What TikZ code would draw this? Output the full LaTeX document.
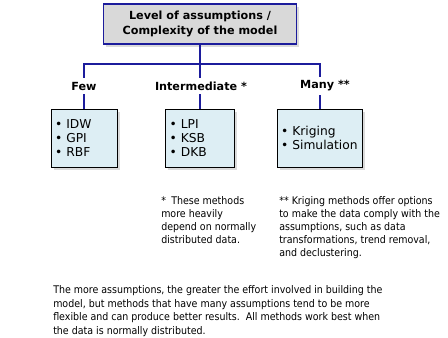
\documentclass[tikz,border=0pt]{standalone}
\usepackage{fontspec}
\setmainfont{DejaVu Sans}
\newfontfamily\notefont{DejaVu Sans Condensed}
\usetikzlibrary{shadows}
\definecolor{navy}{HTML}{1C1C9C}
\definecolor{headgray}{HTML}{D9D9D9}
\definecolor{paleblue}{HTML}{DDEEF4}
\tikzset{
  link/.style={navy,line width=1.5pt},
  boxshadow/.style={drop shadow={shadow xshift=2pt,shadow yshift=-2pt,fill=black!40,opacity=.35}},
  headbox/.style={draw=navy,line width=0.9pt,fill=headgray,boxshadow,align=center,
    font=\fontsize{8.4}{11}\bfseries,minimum width=193*0.75pt,minimum height=40*0.75pt},
  levellabel/.style={fill=white,inner sep=3pt,font=\fontsize{8.4}{10}\bfseries},
  methodbox/.style={draw=black,line width=0.75pt,fill=paleblue,boxshadow,align=left,
    font=\fontsize{9.2}{10.5}\selectfont,inner sep=3pt,minimum height=58*0.75pt},
  notetext/.style={anchor=north west,inner sep=0pt,align=left,font=\notefont\fontsize{7.9}{9.75}\selectfont}
}
\begin{document}
\begin{tikzpicture}[x=0.75pt,y=-0.75pt]
\useasboundingbox (0,0) rectangle (448,337);
\node[headbox] (top) at (200,24) {Level of assumptions /\\Complexity of the model};
\node[methodbox,minimum width=64*0.75pt,text width=58*0.75pt] (fewbox) at (84,138) {\textbullet\ IDW\\\textbullet\ GPI\\\textbullet\ RBF};
\node[methodbox,minimum width=67*0.75pt,text width=61*0.75pt] (midbox) at (200,138) {\textbullet\ LPI\\\textbullet\ KSB\\\textbullet\ DKB};
\node[methodbox,minimum width=83*0.75pt,text width=77*0.75pt] (manybox) at (319.5,138) {\textbullet\ Kriging\\\textbullet\ Simulation};
\draw[link] (top.south) -- ++(0,19) coordinate (bar);
\foreach \b in {fewbox,midbox,manybox} {\draw[link] (bar) -| (\b.north);}
\node[levellabel] (few) at (84,86) {Few};
\node[levellabel] (mid) at (201,86) {Intermediate *};
\node[levellabel] (many) at (325,86) {Many **};
\node[notetext] (note1) at (161,196.5) {*\enspace These methods\\more heavily\\depend on normally\\distributed data.};
\node[notetext] (note2) at (279,196.5) {** Kriging methods offer options\\to make the data comply with the\\assumptions, such as data\\transformations, trend removal,\\and declustering.};
\node[notetext,font=\notefont\fontsize{7.9}{10.1}\selectfont] (summary) at (53,285.5) {The more assumptions, the greater the effort involved in building the\\model, but methods that have many assumptions tend to be more\\flexible and can produce better results.\ \ All methods work best when\\the data is normally distributed.};
\end{tikzpicture}
\end{document}
